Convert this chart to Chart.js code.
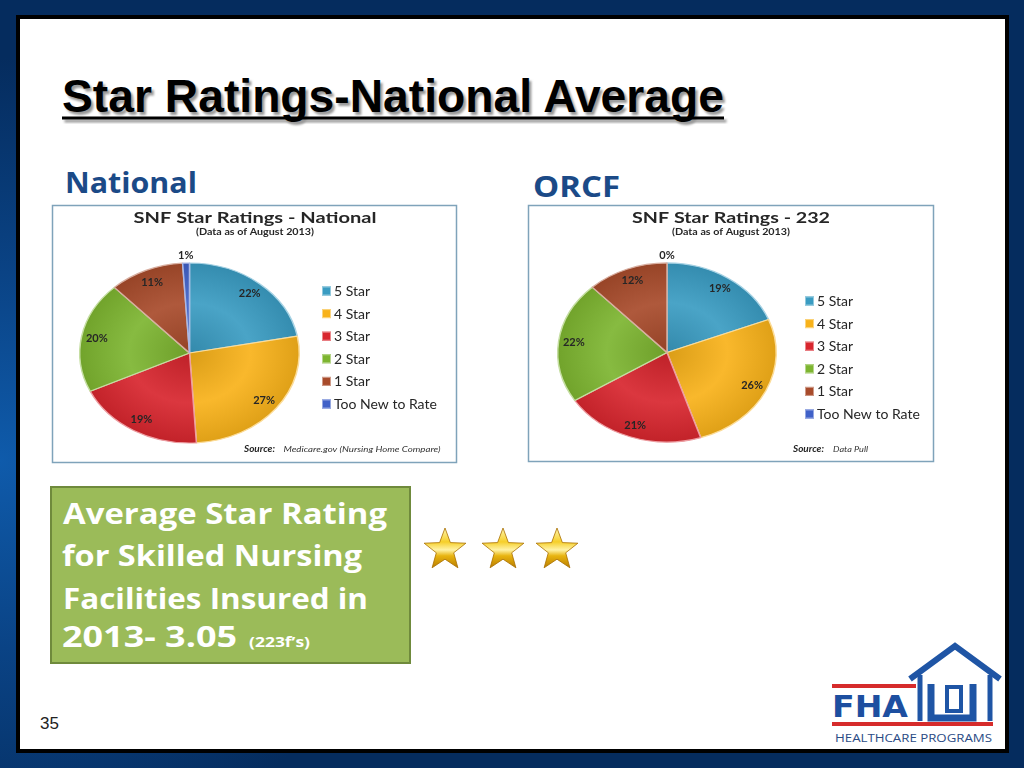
<!DOCTYPE html>
<html>
<head>
<meta charset="utf-8">
<script src="https://cdn.jsdelivr.net/npm/chart.js@4.4.0/dist/chart.umd.min.js"></script>
<style>
  html, body { margin: 0; padding: 0; }
  body {
    width: 1024px; height: 768px; overflow: hidden; position: relative;
    background: radial-gradient(ellipse 55% 70% at 0% 60%, #0f5bab 0%, #0a4385 35%, #052c5e 75%), #052c5e;
  }
  #slide { position: absolute; left: 0; top: 0; }
  canvas { position: absolute; }
  #natChart { left: 52px; top: 195px; }
  #orcfChart { left: 528px; top: 195px; }
</style>
</head>
<body>
<svg id="slide" width="1024" height="768" xmlns="http://www.w3.org/2000/svg">
  <defs>
    <filter id="soft" x="-5%" y="-20%" width="110%" height="140%">
      <feGaussianBlur stdDeviation="1.2"/>
    </filter>
    <linearGradient id="gold" x1="0" y1="0" x2="0" y2="1">
      <stop offset="0" stop-color="#fff6b0"/>
      <stop offset="0.35" stop-color="#f6cf2a"/>
      <stop offset="0.55" stop-color="#fff3a6"/>
      <stop offset="0.7" stop-color="#e8b410"/>
      <stop offset="1" stop-color="#b97d00"/>
    </linearGradient>
  </defs>
  <!-- slide frame -->
  <rect x="18" y="17" width="989" height="734" fill="#fff" stroke="#000" stroke-width="4"/>

  <!-- main title -->
  <g font-family="Liberation Sans" font-weight="bold" font-size="46">
    <text x="64.5" y="114.5" fill="#999" filter="url(#soft)" textLength="662" lengthAdjust="spacingAndGlyphs">Star Ratings-National Average</text>
    <rect x="64.5" y="119.5" width="662" height="3" fill="#999" filter="url(#soft)"/>
    <text x="62" y="112" fill="#000" textLength="662" lengthAdjust="spacingAndGlyphs">Star Ratings-National Average</text>
    <rect x="62" y="116.5" width="662" height="3" fill="#000"/>
  </g>

  <!-- panel headings -->
  <g font-family="Open Sans" font-weight="bold" font-size="29" fill="#1b4a87">
    <text x="65" y="193" textLength="132" lengthAdjust="spacingAndGlyphs">National</text>
    <text x="533" y="197" textLength="87" lengthAdjust="spacingAndGlyphs">ORCF</text>
  </g>

  <!-- chart boxes -->
  <rect x="52.5" y="205.5" width="404" height="257" fill="#fff" stroke="#7fa3ba" stroke-width="1.5"/>
  <rect x="528.5" y="205.5" width="405" height="256" fill="#fff" stroke="#7fa3ba" stroke-width="1.5"/>

  <!-- green summary box -->
  <rect x="51" y="487" width="359" height="176" fill="#9bbb59" stroke="#6f8a3c" stroke-width="2"/>
  <g font-family="Open Sans" font-weight="bold" font-size="28" fill="#fff">
    <text x="63" y="524" textLength="324" lengthAdjust="spacingAndGlyphs">Average Star Rating</text>
    <text x="62" y="566" textLength="300" lengthAdjust="spacingAndGlyphs">for  Skilled Nursing</text>
    <text x="63" y="609" textLength="305" lengthAdjust="spacingAndGlyphs">Facilities Insured in</text>
    <text x="62" y="647" textLength="175" lengthAdjust="spacingAndGlyphs">2013-  3.05</text>
    <text x="249" y="647" font-size="15" textLength="61" lengthAdjust="spacingAndGlyphs">(223f’s)</text>
  </g>

  <!-- stars -->
  <g id="stars"></g>

  <!-- page number -->
  <text x="40" y="729" font-family="Liberation Sans" font-size="17" fill="#222">35</text>

  <!-- logo -->
  <g>
    <rect x="832" y="684" width="84" height="4" fill="#d62b2b"/>
    <text x="832" y="717" font-family="DejaVu Sans" font-weight="bold" font-size="31" fill="#1d4fa0" textLength="76" lengthAdjust="spacingAndGlyphs">FHA</text>
    <rect x="832" y="722" width="161" height="4" fill="#d62b2b"/>
    <text x="835" y="742" font-family="Open Sans" font-size="11.5" fill="#2b4b85" textLength="157" lengthAdjust="spacingAndGlyphs">HEALTHCARE PROGRAMS</text>
    <polyline points="910,679 955,646 1000,679" fill="none" stroke="#1f55a5" stroke-width="6" stroke-linejoin="miter"/>
    <line x1="920" y1="675" x2="920" y2="721" stroke="#1f55a5" stroke-width="5"/>
    <line x1="990" y1="675" x2="990" y2="721" stroke="#1f55a5" stroke-width="5"/>
    <path d="M931 684 L931 718 L973 718 L973 684" fill="none" stroke="#1f55a5" stroke-width="7"/>
    <rect x="947" y="687" width="14" height="24" fill="none" stroke="#1f55a5" stroke-width="4"/>
  </g>
</svg>

<canvas id="natChart" width="406" height="290"></canvas>
<canvas id="orcfChart" width="406" height="290"></canvas>

<script>
// data
const categories = ['5 Star', '4 Star', '3 Star', '2 Star', '1 Star', 'Too New to Rate'];
const nationalValues = [22, 27, 19, 20, 11, 1];
const orcfValues = [19, 26, 21, 22, 12, 0];
const sliceColors = ['#3a9cc2', '#f8b21a', '#d8262e', '#7db530', '#a84b2b', '#4061c8'];

// gold stars (decoration)
(function () {
  const g = document.getElementById('stars');
  [445, 503, 557].forEach(function (cx) {
    const cy = 550, R = 22, r = 9.2;
    let pts = [];
    for (let i = 0; i < 10; i++) {
      const a = -Math.PI / 2 + i * Math.PI / 5;
      const rad = i % 2 ? r : R;
      pts.push((cx + Math.cos(a) * rad).toFixed(1) + ',' + (cy + Math.sin(a) * rad).toFixed(1));
    }
    const p = document.createElementNS('http://www.w3.org/2000/svg', 'polygon');
    p.setAttribute('points', pts.join(' '));
    p.setAttribute('fill', 'url(#gold)');
    p.setAttribute('stroke', '#a86f00');
    p.setAttribute('stroke-width', '0.8');
    g.appendChild(p);
  });
})();

function shade(hex, amt) {
  const n = parseInt(hex.slice(1), 16);
  let c = [(n >> 16) & 255, (n >> 8) & 255, n & 255];
  c = c.map(function (v) {
    return Math.round(amt >= 0 ? v + (255 - v) * amt : v * (1 + amt));
  });
  return 'rgb(' + c.join(',') + ')';
}

// draw text squeezed/stretched to a given width
function fitText(ctx, text, x, y, w, font, color, align) {
  ctx.save();
  ctx.font = font;
  ctx.fillStyle = color;
  ctx.textBaseline = 'alphabetic';
  ctx.textAlign = align || 'left';
  const s = w / ctx.measureText(text).width;
  ctx.translate(x, y);
  ctx.scale(s, 1);
  ctx.fillText(text, 0, 0);
  ctx.restore();
}

const SQUASH = 0.82;

const tiltPlugin = {
  id: 'tilt',
  beforeDatasetsDraw(chart) {
    const arc = chart.getDatasetMeta(0).data[0];
    const ctx = chart.ctx;
    ctx.save();
    ctx.translate(0, arc.y);
    ctx.scale(1, SQUASH);
    ctx.translate(0, -arc.y);
  },
  afterDatasetsDraw(chart) {
    const ctx = chart.ctx;
    ctx.restore();
    const vals = chart.data.datasets[0].data;
    ctx.save();
    ctx.font = 'bold 11px Lato';
    ctx.fillStyle = '#262626';
    ctx.textAlign = 'center';
    ctx.textBaseline = 'middle';
    chart.getDatasetMeta(0).data.forEach(function (arc, i) {
      const mid = (arc.startAngle + arc.endAngle) / 2;
      const k = vals[i] < 3 ? 1.08 : 0.86;
      const x = arc.x + Math.cos(mid) * arc.outerRadius * k;
      const y = arc.y + Math.sin(mid) * arc.outerRadius * k * SQUASH;
      ctx.fillText(vals[i] + '%', x, y);
    });
    ctx.restore();
  },
  afterDraw(chart, args, o) {
    const ctx = chart.ctx;
    fitText(ctx, o.title, 203, 28, o.titleWidth, 'bold 15.5px Lato', '#262626', 'center');
    fitText(ctx, '(Data as of August 2013)', 203, 40, 118, 'bold 8.5px Lato', '#262626', 'center');
    // legend
    chart.data.labels.forEach(function (lab, i) {
      const y = o.legendY + i * 22.6;
      ctx.fillStyle = sliceColors[i];
      ctx.fillRect(o.legendX, y - 4.5, 9, 9);
      ctx.strokeStyle = shade(sliceColors[i], 0.45);
      ctx.lineWidth = 1;
      ctx.strokeRect(o.legendX + 0.5, y - 4, 8, 8);
      ctx.save();
      ctx.font = '14px Lato';
      ctx.fillStyle = '#262626';
      ctx.textBaseline = 'middle';
      ctx.fillText(lab, o.legendX + 12, y + 0.5);
      ctx.restore();
    });
    fitText(ctx, 'Source:', o.srcX, 256.5, 31, 'italic bold 8.5px Lato', '#262626');
    fitText(ctx, o.source, o.srcTextX, 256.5, o.srcWidth, 'italic 8.5px Lato', '#333');
  }
};

function makePie(id, values, padding, extra) {
  return new Chart(document.getElementById(id), {
    type: 'pie',
    data: {
      labels: categories,
      datasets: [{
        data: values,
        backgroundColor: function (c) {
          const base = sliceColors[c.dataIndex];
          const a = c.chart.chartArea;
          if (!a) return base;
          const cx = (a.left + a.right) / 2, cy = (a.top + a.bottom) / 2;
          const r = Math.min(a.width, a.height) / 2;
          const g = c.chart.ctx.createRadialGradient(cx, cy, 0, cx, cy, r);
          g.addColorStop(0, shade(base, -0.12));
          g.addColorStop(0.55, shade(base, 0.08));
          g.addColorStop(1, shade(base, -0.1));
          return g;
        },
        borderColor: sliceColors.map(function (c) { return shade(c, 0.55); }),
        borderWidth: 1.5,
        clip: false
      }]
    },
    options: {
      responsive: false,
      animation: false,
      layout: { padding: padding },
      events: [],
      plugins: {
        legend: { display: false },
        tooltip: { enabled: false },
        tilt: extra
      }
    },
    plugins: [tiltPlugin]
  });
}

makePie('natChart', nationalValues,
  { left: 27, right: 158, top: 47.5, bottom: 21.5 },
  { title: 'SNF Star Ratings - National', titleWidth: 243, legendX: 270, legendY: 96,
    srcX: 192, source: 'Medicare.gov (Nursing Home Compare)', srcTextX: 231.5, srcWidth: 157 });

makePie('orcfChart', orcfValues,
  { left: 29, right: 157, top: 47.5, bottom: 22.5 },
  { title: 'SNF Star Ratings - 232', titleWidth: 198, legendX: 277, legendY: 106,
    srcX: 265, source: 'Data Pull', srcTextX: 305, srcWidth: 35 });
</script>
</body>
</html>
